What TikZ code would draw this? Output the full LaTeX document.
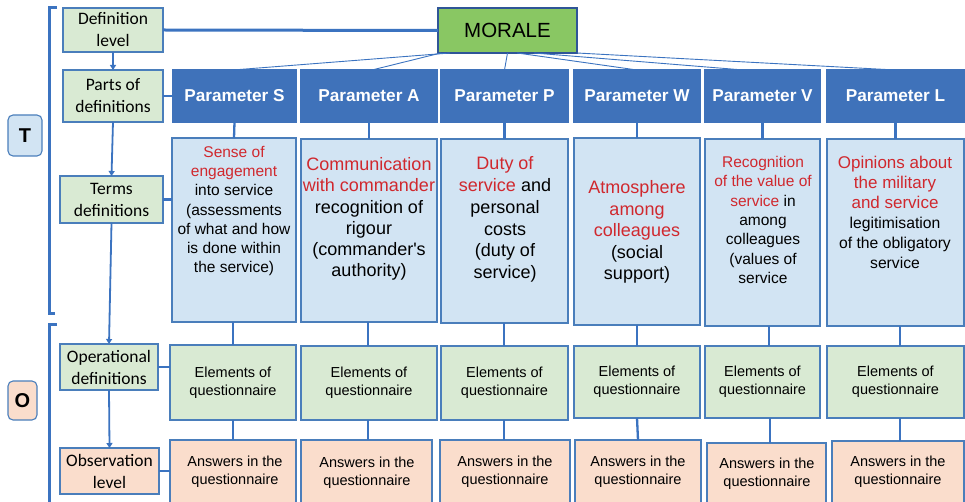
\documentclass[tikz,border=0pt]{standalone}
\usepackage{fontspec}
\setmainfont{Liberation Sans}
\newfontfamily\calfont{Carlito}
\font\sqfont="Liberation Sans" at 18pt
\usetikzlibrary{calc,arrows.meta}

\definecolor{pblue}{RGB}{63,114,186}
\definecolor{tfill}{RGB}{210,228,243}
\definecolor{gfill}{RGB}{217,234,211}
\definecolor{ofill}{RGB}{250,221,204}
\definecolor{mfill}{RGB}{137,199,99}
\definecolor{mborder}{RGB}{47,85,151}
\definecolor{cblue}{RGB}{59,115,192}
\definecolor{bborder}{RGB}{74,126,187}
\definecolor{tred}{RGB}{208,40,46}

\begin{document}
\begin{tikzpicture}[x=1pt,y=-1pt,
  box/.style={draw=bborder, line width=1.1pt, inner sep=0pt, outer sep=0pt, align=center},
  leftbox/.style={box, fill=gfill, font=\calfont\fontsize{17.5}{22}\selectfont},
  parbox/.style={box, fill=pblue, draw=pblue, text=white, minimum height=52, font=\bfseries\fontsize{17.2}{20}\selectfont},
  termbox/.style={box, fill=tfill},
  elembox/.style={box, fill=gfill, font=\fontsize{14.5}{18}\selectfont},
  ansbox/.style={box, fill=ofill},
  anstext/.style={align=center, inner sep=0pt, font=\fontsize{14.5}{18}\selectfont},
  ttext/.style={align=center, inner sep=0pt},
  conn/.style={draw=cblue, line width=2.3pt},
  mline/.style={draw=cblue, line width=0.9pt},
  arr/.style={draw=cblue, line width=1.8pt, -{Triangle[length=5pt,width=6pt]}},
  bracket/.style={draw=cblue, line width=3pt}]

\useasboundingbox (0,0) rectangle (965,502);
\clip (0,0) rectangle (965,502);

% brackets
\draw[bracket] (57,8) -- (49,8) -- (49,313) -- (55,313);
\draw[bracket] (57,324) -- (49,324) -- (49,512);

% T and O labels
\node[box, fill=tfill, rounded corners=5pt, minimum width=34, minimum height=41, font=\bfseries\fontsize{20}{24}\selectfont] (T) at (25,135.5) {T};
\node[box, fill=ofill, rounded corners=5pt, minimum width=29, minimum height=39, font=\bfseries\fontsize{20}{24}\selectfont] (O) at (22.5,400.5) {O};

% left column
\node[leftbox, minimum width=100, minimum height=44] (defl) at (113,30) {Definition\\level};
\node[leftbox, minimum width=100, minimum height=52] (parts) at (113,96) {Parts of\\definitions};
\node[leftbox, minimum width=103, minimum height=47] (terms) at (111.5,199.5) {Terms\\definitions};
\node[leftbox, minimum width=98, minimum height=46] (oper) at (109,367) {Operational\\definitions};
\node[leftbox, fill=ofill, minimum width=99, minimum height=46] (obs) at (109.5,471) {Observation\\level};

\draw[arr] (defl.south) -- (parts.north);
\draw[arr] (parts.south) -- (terms.north);
\draw[arr] (terms.south) -- (oper.north);
\draw[arr] (oper.south) -- (obs.north);

% MORALE
\node[box, fill=mfill, draw=mborder, line width=2.6pt, minimum width=139, minimum height=45, font=\fontsize{20.5}{24}\selectfont] (morale) at (507.5,30.5) {MORALE};

% parameters
\node[parbox, minimum width=123] (pS) at (234.5,96) {Parameter S};
\node[parbox, minimum width=136] (pA) at (369,96) {Parameter A};
\node[parbox, minimum width=127] (pP) at (504.5,96) {Parameter P};
\node[parbox, minimum width=126] (pW) at (637,96) {Parameter W};
\node[parbox, minimum width=115] (pV) at (762.5,96) {Parameter V};
\node[parbox, minimum width=137] (pL) at (895.5,96) {Parameter L};

% term boxes
\node[termbox, minimum width=124, minimum height=184] (tS) at (234,230) {};
\node[termbox, minimum width=136, minimum height=183] (tA) at (369,230.5) {};
\node[termbox, minimum width=127, minimum height=184] (tP) at (504.5,231) {};
\node[termbox, minimum width=126, minimum height=187] (tW) at (637,231.5) {};
\node[termbox, minimum width=115, minimum height=187] (tV) at (762.5,232.5) {};
\node[termbox, minimum width=137, minimum height=187] (tL) at (895.5,232.5) {};

\node[ttext, font=\fontsize{15.5}{19.3}\selectfont] (tSt) at (234,211)
  {\textcolor{tred}{Sense of}\\\textcolor{tred}{engagement}\\into service\\(assessments\\of what and how\\is done within\\the service)};
\node[ttext, font=\fontsize{18}{21.2}\selectfont] (tAt) at (369,219)
  {\textcolor{tred}{Communication}\\\textcolor{tred}{with commander}\\recognition of\\rigour\\(commander{\sqfont '}s\\authority)};
\node[ttext, font=\fontsize{18}{21.8}\selectfont] (tPt) at (505,219.5)
  {\textcolor{tred}{Duty of}\\\textcolor{tred}{service} and\\personal\\costs\\(duty of\\service)};
\node[ttext, font=\fontsize{18}{21.5}\selectfont] (tWt) at (637,232)
  {\textcolor{tred}{Atmosphere}\\\textcolor{tred}{among}\\\textcolor{tred}{colleagues}\\(social\\support)};
\node[ttext, font=\fontsize{15.5}{19.3}\selectfont] (tVt) at (763,220)
  {\textcolor{tred}{Recognition}\\\textcolor{tred}{of the value of}\\\textcolor{tred}{service} in\\among\\colleagues\\(values of\\service};
\node[ttext, font=\fontsize{15.7}{20}\selectfont] (tLt) at (895,212)
  {\fontsize{17}{20}\selectfont\textcolor{tred}{Opinions about}\\\fontsize{17}{20}\selectfont\textcolor{tred}{the military}\\\fontsize{17}{20}\selectfont\textcolor{tred}{and service}\\legitimisation\\of the obligatory\\service};

% element boxes
\node[elembox, minimum width=126, minimum height=75] (eS) at (233,382.5) {Elements of\\questionnaire};
\node[elembox, minimum width=136, minimum height=74] (eA) at (369,383) {Elements of\\questionnaire};
\node[elembox, minimum width=127, minimum height=74] (eP) at (504.5,383) {Elements of\\questionnaire};
\node[elembox, minimum width=126, minimum height=72] (eW) at (637,382) {Elements of\\questionnaire};
\node[elembox, minimum width=115, minimum height=72] (eV) at (762.5,382) {Elements of\\questionnaire};
\node[elembox, minimum width=137, minimum height=72] (eL) at (895.5,382) {Elements of\\questionnaire};

% answer boxes
\node[ansbox, anchor=north, minimum width=126, minimum height=75] (aS) at (233,440) {};
\node[ansbox, anchor=north, minimum width=131, minimum height=75] (aA) at (366.5,440) {};
\node[ansbox, anchor=north, minimum width=130, minimum height=75] (aP) at (505,440) {};
\node[ansbox, anchor=north, minimum width=126, minimum height=75] (aW) at (638,440) {};
\node[ansbox, anchor=north, minimum width=119, minimum height=75] (aV) at (766.5,443) {};
\node[ansbox, anchor=north, minimum width=132, minimum height=75] (aL) at (898,441) {};

\node[anstext] (aSt) at (235,472) {Answers in the\\questionnaire};
\node[anstext] (aAt) at (367,472.5) {Answers in the\\questionnaire};
\node[anstext] (aPt) at (505,472) {Answers in the\\questionnaire};
\node[anstext] (aWt) at (638,472) {Answers in the\\questionnaire};
\node[anstext] (aVt) at (767,473.5) {Answers in the\\questionnaire};
\node[anstext] (aLt) at (898,472) {Answers in the\\questionnaire};

% horizontal connectors from left column
\draw[conn, line width=3pt] (defl.east) -- (morale.west);
\draw[conn] (parts.east) -- (pS.west);
\draw[conn] (terms.east) -- (terms.east -| tS.west);
\draw[conn] (oper.east) -- (oper.east -| eS.west);
\draw[conn] (obs.east) -- (obs.east -| aS.west);

% MORALE to parameters
\draw[mline] ($(morale.south west)!0.086!(morale.south east)$) -- ($(pS.north)+(-1.5,0)$);
\draw[mline] ($(morale.south west)!0.02!(morale.south east)$) -- ($(pA.north)+(3,0)$);
\draw[mline] ($(morale.south west)!0.5!(morale.south east)$) -- (pP.north);
\draw[mline] ($(morale.south west)!0.57!(morale.south east)$) -- (pW.north);
\draw[mline] ($(morale.south west)!0.69!(morale.south east)$) -- ($(pV.north)+(-19,0)$);
\draw[mline] (morale.south east) -- (pL.north);

% parameters to terms
\foreach \k in {S,A,P,W,V,L} \draw[conn] (p\k.south) -- (t\k.north);

% terms to elements
\draw[conn] ($(tS.south)+(-1,0)$) -- (eS.north);
\draw[conn] ($(tA.south)+(-1,0)$) -- ($(eA.north)+(-1,0)$);
\draw[conn] ($(tP.south)+(-0.5,0)$) -- ($(eP.north)+(-0.5,0)$);
\draw[conn] (tW.south) -- (eW.north);
\draw[conn] ($(tV.south)+(6.5,0)$) -- ($(eV.north)+(6.5,0)$);
\draw[conn] ($(tL.south)+(4.5,0)$) -- ($(eL.north)+(4.5,0)$);

% elements to answers
\draw[conn] (eS.south) -- (aS.north);
\draw[conn] ($(eA.south)+(-1,0)$) -- ($(aA.north)+(1.5,0)$);
\draw[conn] ($(eP.south)+(-0.5,0)$) -- ($(aP.north)+(-1,0)$);
\draw[conn] (eW.south) -- (aW.north);
\draw[conn] ($(eV.south)+(7.5,0)$) -- ($(aV.north)+(3.5,0)$);
\draw[conn] ($(eL.south)+(4.5,0)$) -- ($(aL.north)+(2,0)$);

\end{tikzpicture}
\end{document}
